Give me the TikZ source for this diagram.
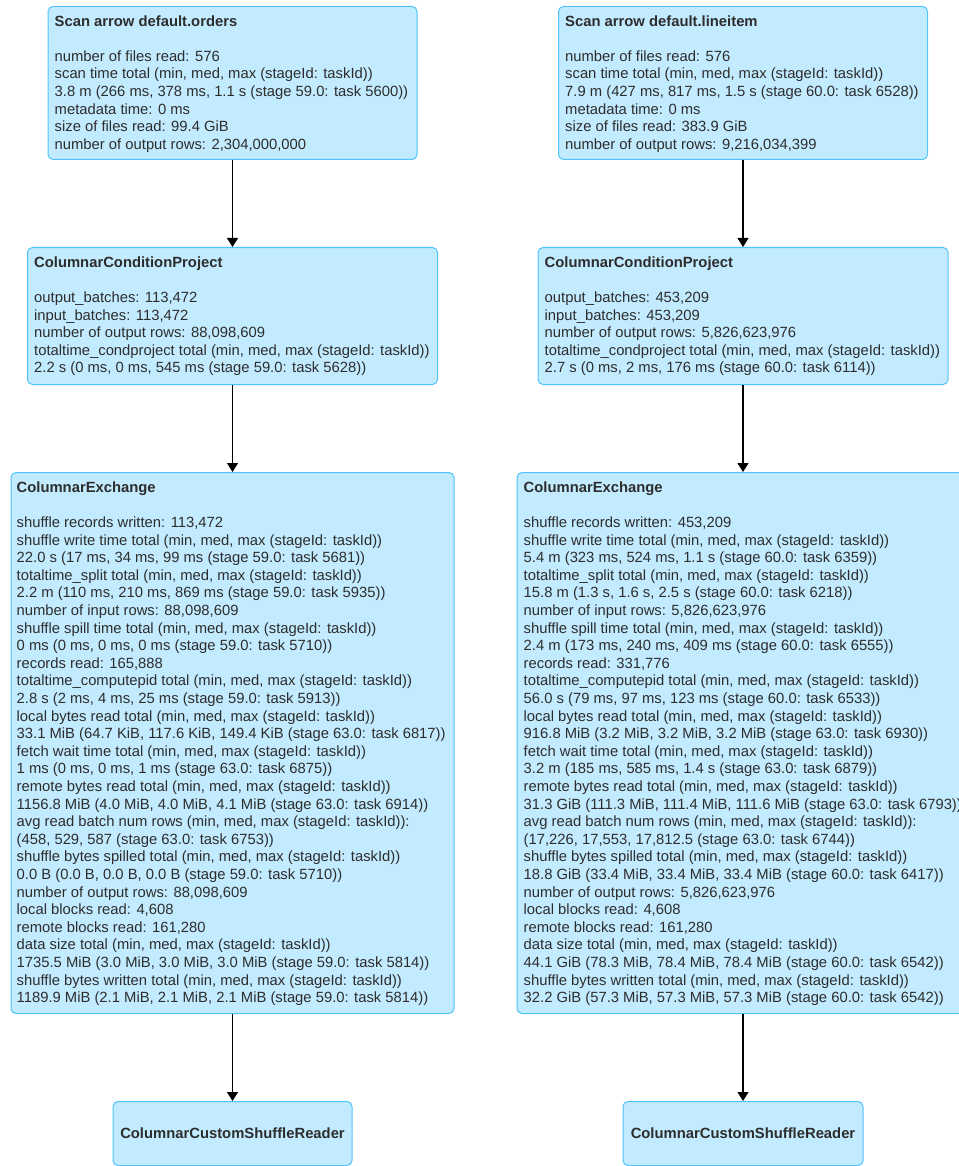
\documentclass[tikz,border=0pt]{standalone}
\usepackage{fontspec}
\newfontfamily\uifont{Liberation Sans}
\usetikzlibrary{calc,arrows.meta}
\definecolor{boxfill}{RGB}{195,235,255}
\definecolor{boxline}{RGB}{80,195,252}
\definecolor{ink}{RGB}{45,45,45}
\tikzset{
  opbox/.style={draw=boxline, fill=boxfill, line width=1pt, rounded corners=5pt,
    rectangle, inner sep=0pt, anchor=north, text=ink, font=\uifont\fontsize{14.8}{17.6}\selectfont\bfseries},
  optext/.style={anchor=north west, inner sep=0pt, align=left, text=ink,
    font=\uifont\fontsize{14.8}{17.6}\selectfont},
  flow/.style={draw=black, line width=1.3pt, -{Triangle[length=9pt,width=11pt]}}
}
% first line strut and title of a box
\newcommand\optitle[1]{\rule{0pt}{11pt}\textbf{#1}\\[17.6pt]}
\begin{document}
\begin{tikzpicture}[x=1pt,y=-1pt]
\useasboundingbox (0,0) rectangle (958,1166);

% ---------------- left branch: orders ----------------
\node[opbox, minimum width=369, minimum height=153] (scanL) at (232.5,6) {};
\node[optext] (scanLt) at ($(scanL.north west)+(7,9)$) {\optitle{Scan arrow default.orders}
number of files read: 576\\
scan time total (min, med, max (stageId: taskId))\\
3.8 m (266 ms, 378 ms, 1.1 s (stage 59.0: task 5600))\\
metadata time: 0 ms\\
size of files read: 99.4 GiB\\
number of output rows: 2,304,000,000};

\node[opbox, minimum width=410, minimum height=137] (condL) at (232.5,247) {};
\node[optext] (condLt) at ($(condL.north west)+(7,9)$) {\optitle{ColumnarConditionProject}
output\_batches: 113,472\\
input\_batches: 113,472\\
number of output rows: 88,098,609\\
totaltime\_condproject total (min, med, max (stageId: taskId))\\
2.2 s (0 ms, 0 ms, 545 ms (stage 59.0: task 5628))};

\node[opbox, minimum width=443, minimum height=541] (exL) at (232.5,472) {};
\node[optext] (exLt) at ($(exL.north west)+(6,9)$) {\optitle{ColumnarExchange}
shuffle records written: 113,472\\
shuffle write time total (min, med, max (stageId: taskId))\\
22.0 s (17 ms, 34 ms, 99 ms (stage 59.0: task 5681))\\
totaltime\_split total (min, med, max (stageId: taskId))\\
2.2 m (110 ms, 210 ms, 869 ms (stage 59.0: task 5935))\\
number of input rows: 88,098,609\\
shuffle spill time total (min, med, max (stageId: taskId))\\
0 ms (0 ms, 0 ms, 0 ms (stage 59.0: task 5710))\\
records read: 165,888\\
totaltime\_computepid total (min, med, max (stageId: taskId))\\
2.8 s (2 ms, 4 ms, 25 ms (stage 59.0: task 5913))\\
local bytes read total (min, med, max (stageId: taskId))\\
33.1 MiB (64.7 KiB, 117.6 KiB, 149.4 KiB (stage 63.0: task 6817))\\
fetch wait time total (min, med, max (stageId: taskId))\\
1 ms (0 ms, 0 ms, 1 ms (stage 63.0: task 6875))\\
remote bytes read total (min, med, max (stageId: taskId))\\
1156.8 MiB (4.0 MiB, 4.0 MiB, 4.1 MiB (stage 63.0: task 6914))\\
avg read batch num rows (min, med, max (stageId: taskId)):\\
(458, 529, 587 (stage 63.0: task 6753))\\
shuffle bytes spilled total (min, med, max (stageId: taskId))\\
0.0 B (0.0 B, 0.0 B, 0.0 B (stage 59.0: task 5710))\\
number of output rows: 88,098,609\\
local blocks read: 4,608\\
remote blocks read: 161,280\\
data size total (min, med, max (stageId: taskId))\\
1735.5 MiB (3.0 MiB, 3.0 MiB, 3.0 MiB (stage 59.0: task 5814))\\
shuffle bytes written total (min, med, max (stageId: taskId))\\
1189.9 MiB (2.1 MiB, 2.1 MiB, 2.1 MiB (stage 59.0: task 5814))};

\node[opbox, minimum width=239, minimum height=64] (rdL) at (232.5,1101) {ColumnarCustomShuffleReader};

% ---------------- right branch: lineitem ----------------
\node[opbox, minimum width=369, minimum height=153] (scanR) at (743,6) {};
\node[optext] (scanRt) at ($(scanR.north west)+(7,9)$) {\optitle{Scan arrow default.lineitem}
number of files read: 576\\
scan time total (min, med, max (stageId: taskId))\\
7.9 m (427 ms, 817 ms, 1.5 s (stage 60.0: task 6528))\\
metadata time: 0 ms\\
size of files read: 383.9 GiB\\
number of output rows: 9,216,034,399};

\node[opbox, minimum width=410, minimum height=137] (condR) at (743,247) {};
\node[optext] (condRt) at ($(condR.north west)+(7,9)$) {\optitle{ColumnarConditionProject}
output\_batches: 453,209\\
input\_batches: 453,209\\
number of output rows: 5,826,623,976\\
totaltime\_condproject total (min, med, max (stageId: taskId))\\
2.7 s (0 ms, 2 ms, 176 ms (stage 60.0: task 6114))};

\node[opbox, minimum width=452, minimum height=541] (exR) at (743,472) {};
\node[optext] (exRt) at ($(exR.north west)+(7,9)$) {\optitle{ColumnarExchange}
shuffle records written: 453,209\\
shuffle write time total (min, med, max (stageId: taskId))\\
5.4 m (323 ms, 524 ms, 1.1 s (stage 60.0: task 6359))\\
totaltime\_split total (min, med, max (stageId: taskId))\\
15.8 m (1.3 s, 1.6 s, 2.5 s (stage 60.0: task 6218))\\
number of input rows: 5,826,623,976\\
shuffle spill time total (min, med, max (stageId: taskId))\\
2.4 m (173 ms, 240 ms, 409 ms (stage 60.0: task 6555))\\
records read: 331,776\\
totaltime\_computepid total (min, med, max (stageId: taskId))\\
56.0 s (79 ms, 97 ms, 123 ms (stage 60.0: task 6533))\\
local bytes read total (min, med, max (stageId: taskId))\\
916.8 MiB (3.2 MiB, 3.2 MiB, 3.2 MiB (stage 63.0: task 6930))\\
fetch wait time total (min, med, max (stageId: taskId))\\
3.2 m (185 ms, 585 ms, 1.4 s (stage 63.0: task 6879))\\
remote bytes read total (min, med, max (stageId: taskId))\\
31.3 GiB (111.3 MiB, 111.4 MiB, 111.6 MiB (stage 63.0: task 6793))\\
avg read batch num rows (min, med, max (stageId: taskId)):\\
(17,226, 17,553, 17,812.5 (stage 63.0: task 6744))\\
shuffle bytes spilled total (min, med, max (stageId: taskId))\\
18.8 GiB (33.4 MiB, 33.4 MiB, 33.4 MiB (stage 60.0: task 6417))\\
number of output rows: 5,826,623,976\\
local blocks read: 4,608\\
remote blocks read: 161,280\\
data size total (min, med, max (stageId: taskId))\\
44.1 GiB (78.3 MiB, 78.4 MiB, 78.4 MiB (stage 60.0: task 6542))\\
shuffle bytes written total (min, med, max (stageId: taskId))\\
32.2 GiB (57.3 MiB, 57.3 MiB, 57.3 MiB (stage 60.0: task 6542))};

\node[opbox, minimum width=240, minimum height=64] (rdR) at (743,1101) {ColumnarCustomShuffleReader};

% ---------------- data flow ----------------
\draw[flow] (scanL.south) -- (condL.north);
\draw[flow] (condL.south) -- (exL.north);
\draw[flow] (exL.south) -- (rdL.north);
\draw[flow] (scanR.south) -- (condR.north);
\draw[flow] (condR.south) -- (exR.north);
\draw[flow] (exR.south) -- (rdR.north);
\end{tikzpicture}
\end{document}
